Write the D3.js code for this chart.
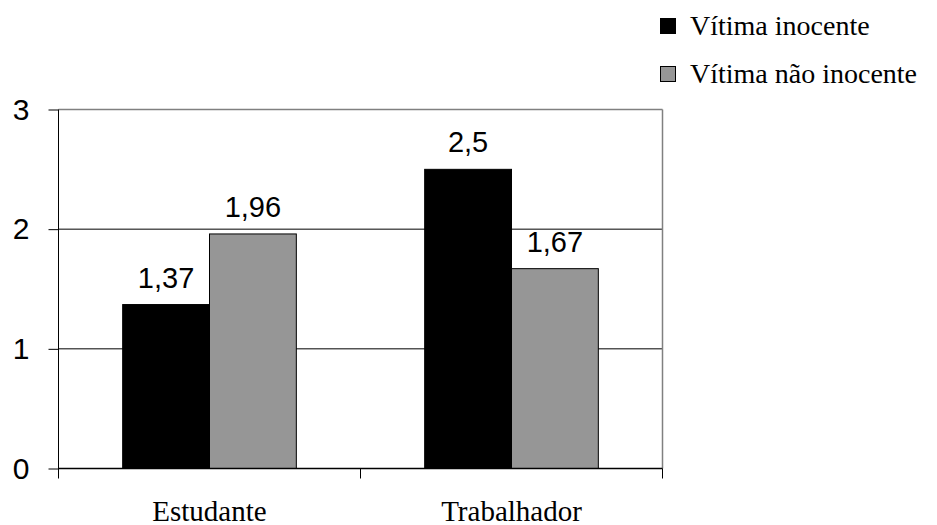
<!DOCTYPE html>
<html>
<head>
<meta charset="utf-8">
<script src="https://cdn.jsdelivr.net/npm/d3@7"></script>
<style>
  html, body { margin: 0; padding: 0; background: #fff; }
  svg { display: block; }
  .sans { font-family: "Liberation Sans", Arimo, Arial, Helvetica, sans-serif; }
  .serif { font-family: "Liberation Serif", Tinos, "Times New Roman", Times, serif; }
</style>
</head>
<body>
<svg id="chart" width="937" height="525"></svg>
<script>
// Categories and series values
const categories = ["Estudante", "Trabalhador"];
const seriesNames = ["Vítima inocente", "Vítima não inocente"];
const inocente = [1.37, 2.5];
const naoInocente = [1.96, 1.67];
const yTicks = [0, 1, 2, 3];
const seriesColors = ["#000000", "#969696"];

const rows = categories.map((c, i) => ({
  category: c,
  values: [
    { key: seriesNames[0], value: inocente[i] },
    { key: seriesNames[1], value: naoInocente[i] }
  ]
}));

const svg = d3.select("#chart");
const margin = { left: 58.5, right: 937 - 662.5, top: 109.5, bottom: 525 - 468.5 };
const width = 937 - margin.left - margin.right;
const height = 525 - margin.top - margin.bottom;

const g = svg.append("g").attr("transform", `translate(${margin.left},${margin.top})`);

const x0 = d3.scaleBand().domain(categories).range([0, width]).paddingInner(0).paddingOuter(0);
const groupWidth = x0.bandwidth() * 0.575;
const x1 = d3.scaleBand().domain(seriesNames).range([0, groupWidth]).padding(0);
const y = d3.scaleLinear().domain([0, 3]).range([height, 0]);
const color = d3.scaleOrdinal().domain(seriesNames).range(seriesColors);

// Horizontal gridlines
g.append("g")
  .selectAll("line")
  .data(yTicks.filter(t => t > 0 && t < 3))
  .join("line")
  .attr("x1", 0).attr("x2", width)
  .attr("y1", d => y(d)).attr("y2", d => y(d))
  .attr("stroke", "#000").attr("stroke-width", 1);

// Plot frame: top and right in gray
g.append("line").attr("x1", 0).attr("x2", width).attr("y1", 0).attr("y2", 0)
  .attr("stroke", "#808080").attr("stroke-width", 1.5);
g.append("line").attr("x1", width).attr("x2", width).attr("y1", 0).attr("y2", height)
  .attr("stroke", "#808080").attr("stroke-width", 1.5);

// Bars
const groups = g.append("g").selectAll("g")
  .data(rows)
  .join("g")
  .attr("transform", d => `translate(${x0(d.category) + (x0.bandwidth() - groupWidth) / 2},0)`);

groups.selectAll("rect")
  .data(d => d.values)
  .join("rect")
  .attr("x", d => x1(d.key))
  .attr("y", d => y(d.value))
  .attr("width", x1.bandwidth())
  .attr("height", d => height - y(d.value))
  .attr("fill", d => color(d.key))
  .attr("stroke", "#000")
  .attr("stroke-width", 1);

// Value labels
const fmt = v => String(v).replace(".", ",");
groups.selectAll("text")
  .data(d => d.values)
  .join("text")
  .attr("class", "sans")
  .attr("x", d => x1(d.key) + x1.bandwidth() / 2)
  .attr("y", d => y(d.value) - 17)
  .attr("text-anchor", "middle")
  .attr("font-size", 29)
  .attr("fill", "#000")
  .text(d => fmt(d.value));

// Y axis
const yAxis = d3.axisLeft(y).tickValues(yTicks).tickSize(10).tickPadding(19).tickFormat(d3.format("d"));
const yg = g.append("g").call(yAxis);
yg.attr("font-family", null);
yg.select(".domain").remove();
yg.selectAll(".tick line").attr("stroke", "#000");
yg.selectAll(".tick text")
  .attr("class", "sans")
  .attr("font-size", 30)
  .attr("fill", "#000");
g.append("line").attr("x1", 0).attr("x2", 0).attr("y1", 0).attr("y2", height + 10)
  .attr("stroke", "#000").attr("stroke-width", 1);

// X axis: ticks at category boundaries
g.append("line").attr("x1", 0).attr("x2", width).attr("y1", height).attr("y2", height)
  .attr("stroke", "#000").attr("stroke-width", 1.5);
const boundaries = categories.map(c => x0(c)).concat([width]);
g.append("g").selectAll("line")
  .data(boundaries.slice(1))
  .join("line")
  .attr("x1", d => d).attr("x2", d => d)
  .attr("y1", height).attr("y2", height + 10)
  .attr("stroke", "#000");

g.append("g").selectAll("text")
  .data(categories)
  .join("text")
  .attr("class", "serif")
  .attr("x", d => x0(d) + x0.bandwidth() / 2)
  .attr("y", height + 52)
  .attr("text-anchor", "middle")
  .attr("font-size", 29)
  .attr("fill", "#000")
  .text(d => d);

// Legend
const legend = svg.append("g").attr("transform", "translate(660,18)");
const items = legend.selectAll("g")
  .data(seriesNames)
  .join("g")
  .attr("transform", (d, i) => `translate(0,${i * 48})`);
items.append("rect")
  .attr("x", 0.5).attr("y", 0.5)
  .attr("width", 15).attr("height", 15)
  .attr("fill", d => color(d))
  .attr("stroke", "#000").attr("stroke-width", 1);
items.append("text")
  .attr("class", "serif")
  .attr("x", 30)
  .attr("y", 17)
  .attr("font-size", 28)
  .attr("fill", "#000")
  .text(d => d);
</script>
</body>
</html>
